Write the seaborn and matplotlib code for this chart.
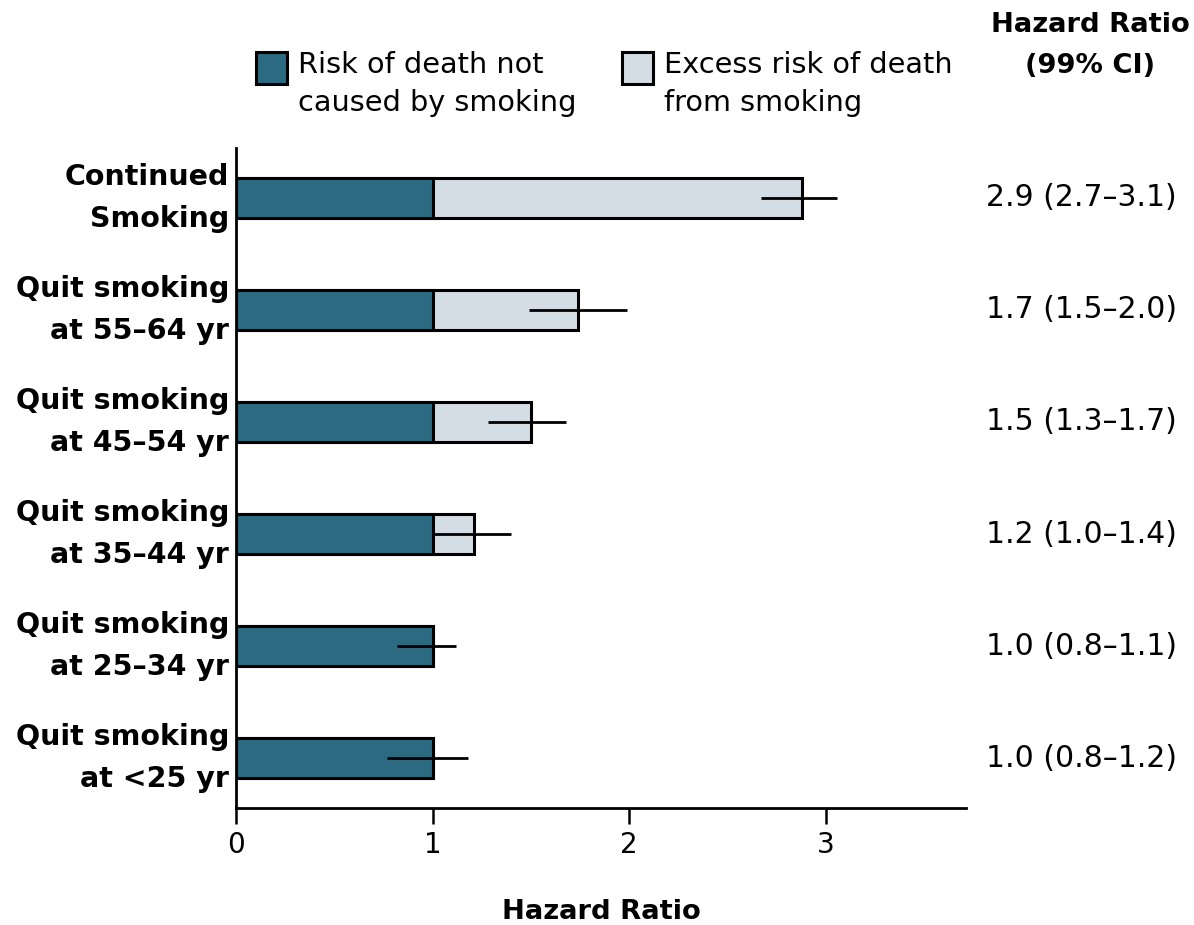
import matplotlib
matplotlib.use("Agg")
import matplotlib.pyplot as plt
from matplotlib.patches import Rectangle
import matplotlib.transforms as mtransforms
import pandas as pd
import seaborn as sns

# ─── Data ────────────────────────────────────────────────────────────────────
groups = [
    "Continued\nSmoking",
    "Quit smoking\nat 55\u201364 yr",
    "Quit smoking\nat 45\u201354 yr",
    "Quit smoking\nat 35\u201344 yr",
    "Quit smoking\nat 25\u201334 yr",
    "Quit smoking\nat <25 yr",
]
hazard   = [2.88, 1.74, 1.50, 1.21, 1.00, 1.00]
baseline = [1.00, 1.00, 1.00, 1.00, 1.00, 1.00]
ci_low   = [2.67, 1.49, 1.28, 1.00, 0.82, 0.77]
ci_high  = [3.06, 1.99, 1.68, 1.40, 1.12, 1.18]
hr_text  = [
    "2.9 (2.7\u20133.1)",
    "1.7 (1.5\u20132.0)",
    "1.5 (1.3\u20131.7)",
    "1.2 (1.0\u20131.4)",
    "1.0 (0.8\u20131.1)",
    "1.0 (0.8\u20131.2)",
]
x_ticks = [0, 1, 2, 3]

DARK  = "#2b6a80"
LIGHT = "#d3dde3"

df = pd.DataFrame({"group": groups, "hazard": hazard, "baseline": baseline})

sns.set_style("white")
plt.rcParams["font.family"] = ["DejaVu Sans"]
plt.rcParams["text.color"] = "black"
plt.rcParams["axes.labelcolor"] = "black"
plt.rcParams["xtick.color"] = "black"
plt.rcParams["ytick.color"] = "black"

fig = plt.figure(figsize=(11.94, 9.25), dpi=100)
ax = fig.add_axes([0.1977, 0.1265, 0.6114, 0.7135])

# total hazard (light), then the part not caused by smoking (dark) on top
sns.barplot(data=df, x="hazard", y="group", orient="h", color=LIGHT,
            saturation=1, edgecolor="black", linewidth=2.2, width=0.36, ax=ax)
sns.barplot(data=df, x="baseline", y="group", orient="h", color=DARK,
            saturation=1, edgecolor="black", linewidth=2.2, width=0.36, ax=ax)

ax.hlines(range(len(groups)), ci_low, ci_high, color="black", lw=2.0, zorder=5)

ax.set_xlim(0, 3.715)
ax.set_ylim(len(groups) - 0.554, -0.446)
ax.set_xticks(x_ticks)
ax.set_xticklabels([str(t) for t in x_ticks], fontsize=20)
ax.tick_params(axis="x", direction="out", length=11.5, width=1.8, pad=5,
               bottom=True, color="black", labelcolor="black")
ax.tick_params(axis="y", length=0, pad=5, labelcolor="black")
for lab in ax.get_yticklabels():
    lab.set_fontweight("bold")
    lab.set_fontsize(20.5)
    lab.set_linespacing(1.6)
    lab.set_verticalalignment("center")

for side in ["top", "right"]:
    ax.spines[side].set_visible(False)
for side in ["left", "bottom"]:
    ax.spines[side].set_linewidth(2.0)
    ax.spines[side].set_color("black")

ax.set_ylabel("")
ax.set_xlabel("Hazard Ratio", fontsize=19.7, fontweight="bold", labelpad=29)

# right-hand column with the values
trans = mtransforms.blended_transform_factory(ax.transAxes, ax.transData)
for i, txt in enumerate(hr_text):
    ax.text(1.158, i, txt, transform=trans, ha="center", va="center",
            fontsize=21.5, clip_on=False)
fig.text(0.913, 0.951, "Hazard Ratio\n(99% CI)", ha="center", va="center",
         fontsize=19.7, fontweight="bold", linespacing=1.75)

# legend, drawn by hand so the swatch sits on the first line
for x0, col, label in [(0.2144, DARK, "Risk of death not\ncaused by smoking"),
                       (0.5210, LIGHT, "Excess risk of death\nfrom smoking")]:
    fig.add_artist(Rectangle((x0, 0.9092), 0.026, 0.0346, transform=fig.transFigure,
                             facecolor=col, edgecolor="black", linewidth=2.2))
    fig.text(x0 + 0.0352, 0.945, label, ha="left", va="top",
             fontsize=20.7, linespacing=1.45)

plt.savefig("out.png", dpi=100)
plt.close()
